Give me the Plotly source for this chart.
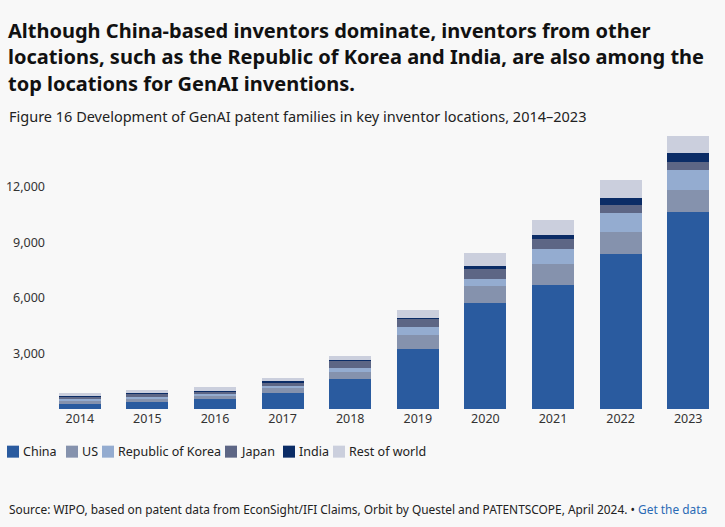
import plotly.graph_objects as go

years = ["2014", "2015", "2016", "2017", "2018", "2019", "2020", "2021", "2022", "2023"]
china = [285, 393, 517, 862, 1616, 3248, 5725, 6711, 8365, 10643]
us = [180, 180, 215, 323, 395, 770, 899, 1099, 1169, 1168]
korea = [54, 72, 72, 72, 180, 393, 409, 824, 1056, 1077]
japan = [162, 180, 162, 180, 431, 447, 522, 539, 415, 415]
india = [10, 15, 20, 54, 36, 54, 162, 215, 393, 485]
rest = [180, 162, 180, 197, 215, 415, 684, 808, 953, 932]

series_names = ["China", "US", "Republic of Korea", "Japan", "India", "Rest of world"]
series_values = [china, us, korea, japan, india, rest]
colors = ["#2a5b9f", "#8592ad", "#94acd0", "#5d6685", "#0b2c66", "#cbcfdd"]
y_ticks = [3000, 6000, 9000, 12000]

title_lines = [
    "Although China-based inventors dominate, inventors from other",
    "locations, such as the Republic of Korea and India, are also among the",
    "top locations for GenAI inventions.",
]

W, H = 725, 527
BG = "#f8f8f8"
FONT = "Noto Sans"

fig = go.Figure()
for name, vals, col in zip(series_names, series_values, colors):
    fig.add_trace(go.Bar(x=years, y=vals, name=name, marker=dict(color=col, line=dict(width=0)),
                         showlegend=False))


def px_x(x):
    return (x - 46) / 676


def px_y(y):
    return (409.3 - y) / 278.3


# custom legend
legend_x = [7, 66, 102, 225, 283, 333]
ly = 452
annotations = []
shapes = []
for name, col, lx in zip(series_names, colors, legend_x):
    shapes.append(dict(type="rect", xref="paper", yref="paper",
                       x0=px_x(lx), x1=px_x(lx + 12),
                       y0=px_y(ly + 6), y1=px_y(ly - 6),
                       fillcolor=col, line=dict(width=0)))
    annotations.append(dict(text=name, xref="paper", yref="paper",
                            x=px_x(lx + 14), y=px_y(ly),
                            xanchor="left", yanchor="middle", showarrow=False,
                            font=dict(family=FONT, size=12.5, color="#222")))

for i, line in enumerate(title_lines):
    annotations.append(dict(
        text="<b>%s</b>" % line,
        xref="paper", yref="paper", x=px_x(6), y=px_y(30 + 26.5 * i), xanchor="left", yanchor="middle",
        align="left", showarrow=False, font=dict(family=FONT, size=20, color="#111")))
annotations.append(dict(
    text="Figure 16 Development of GenAI patent families in key inventor locations, 2014–2023",
    xref="paper", yref="paper", x=px_x(7), y=px_y(116), xanchor="left", yanchor="middle",
    showarrow=False, font=dict(family=FONT, size=14.5, color="#222")))
annotations.append(dict(
    text="Source: WIPO, based on patent data from EconSight/IFI Claims, Orbit by Questel and PATENTSCOPE, April 2024. • <span style='color:#2a6ab5'>Get the data</span>",
    xref="paper", yref="paper", x=px_x(7), y=px_y(509), xanchor="left", yanchor="middle",
    showarrow=False, font=dict(family=FONT, size=11.9, color="#222")))

fig.update_layout(
    width=W, height=H,
    barmode="stack", bargap=0.38,
    paper_bgcolor=BG, plot_bgcolor=BG,
    margin=dict(l=46, r=3, t=131, b=118, pad=0),
    font=dict(family=FONT, size=12, color="#333"),
    xaxis=dict(showgrid=False, showline=False, zeroline=False, ticks="",
               tickfont=dict(size=12.5, color="#333")),
    yaxis=dict(range=[0, 15000], tickvals=y_ticks, tickformat=",", showgrid=False,
               zeroline=False, showline=False, ticks="", tickfont=dict(size=12.5, color="#333")),
    shapes=shapes, annotations=annotations,
)

fig.write_html("out.html", config={"displayModeBar": False},
               post_script="document.body.style.margin='0px';document.body.style.background='%s';" % BG)
